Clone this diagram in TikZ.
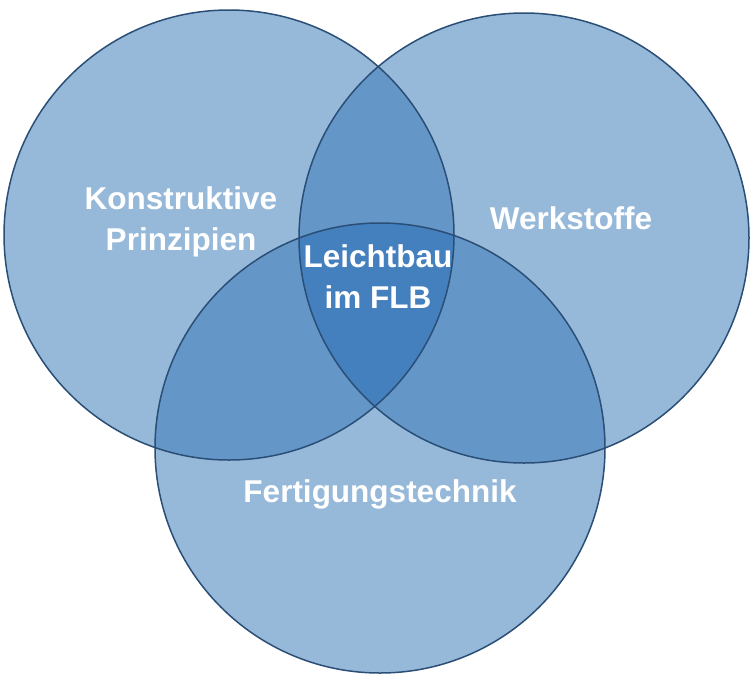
\documentclass[tikz,border=0pt]{standalone}
\usepackage{fontspec}
\setmainfont{Liberation Sans}
\definecolor{vlight}{HTML}{96B9D9}
\definecolor{vmid}{HTML}{6497C8}
\definecolor{vdark}{HTML}{4580BE}
\definecolor{vline}{HTML}{2A4E76}
\tikzset{
  lbl/.style={text=white, font=\bfseries\fontsize{31.5}{41}\selectfont, align=center, inner sep=0pt},
  ring/.style={draw=vline, line width=1.5pt}
}
\begin{document}
\begin{tikzpicture}[x=1pt,y=-1pt]
\useasboundingbox (0,0) rectangle (754,689);
\coordinate (L) at (229,235);
\coordinate (R) at (524,238);
\coordinate (B) at (380,448);
\def\rad{225pt}
% single areas
\fill[vlight] (L) circle (\rad);
\fill[vlight] (R) circle (\rad);
\fill[vlight] (B) circle (\rad);
% pairwise overlaps
\begin{scope}
  \clip (L) circle (\rad);
  \fill[vmid] (R) circle (\rad);
  \fill[vmid] (B) circle (\rad);
\end{scope}
\begin{scope}
  \clip (R) circle (\rad);
  \fill[vmid] (B) circle (\rad);
\end{scope}
% triple overlap
\begin{scope}
  \clip (L) circle (\rad);
  \clip (R) circle (\rad);
  \fill[vdark] (B) circle (\rad);
\end{scope}
% outlines
\draw[ring] (L) circle (\rad);
\draw[ring] (R) circle (\rad);
\draw[ring] (B) circle (\rad);
% labels
\node[lbl] (kp) at (181,222) {Konstruktive\\Prinzipien};
\node[lbl, anchor=base] (ws) at (571,229) {Werkstoffe};
\node[lbl, anchor=base] (ft) at (380,502) {Fertigungstechnik};
\node[lbl] (lb) at (378,277) {Leichtbau\\im FLB};
\end{tikzpicture}
\end{document}
